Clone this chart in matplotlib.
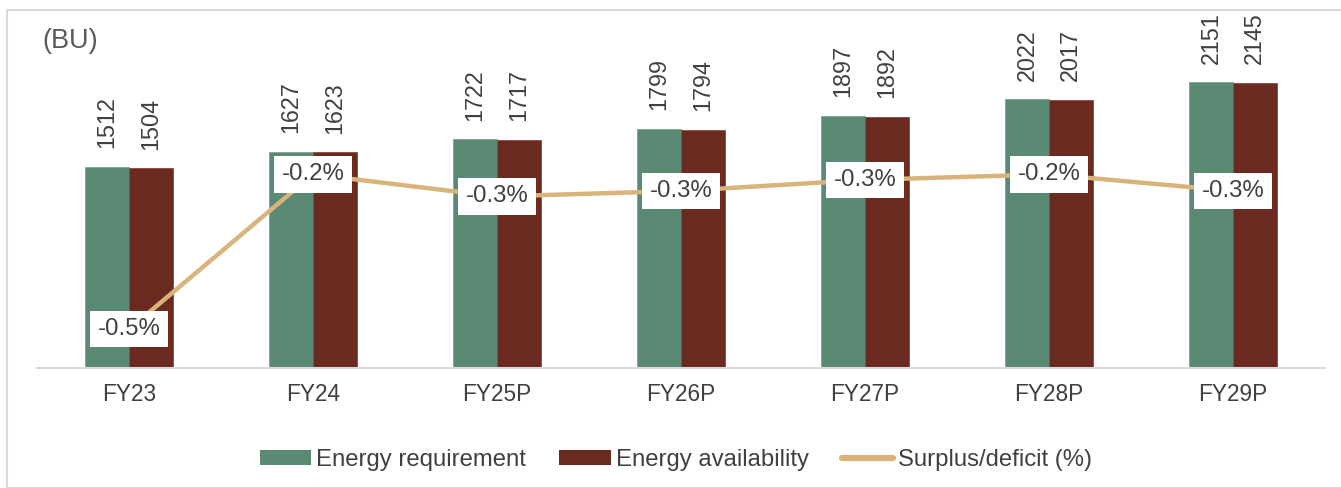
import matplotlib
matplotlib.use("Agg")
import matplotlib.pyplot as plt
from matplotlib.patches import Patch, Rectangle
from matplotlib.lines import Line2D
import numpy as np

categories = ["FY23", "FY24", "FY25P", "FY26P", "FY27P", "FY28P", "FY29P"]
requirement = [1512, 1627, 1722, 1799, 1897, 2022, 2151]
availability = [1504, 1623, 1717, 1794, 1892, 2017, 2145]
surplus_pct = [-0.53, -0.25, -0.29, -0.28, -0.26, -0.25, -0.28]

GREEN = "#5B8A74"
RED = "#6A2A20"
TAN = "#D8B47A"
TXT = "#404040"

plt.rcParams["font.family"] = ["Liberation Sans", "DejaVu Sans"]

fig = plt.figure(figsize=(13.41, 4.88), dpi=100)
W, H = 1341, 488
fig.patches.append(Rectangle((7 / W, 0), 1.2, 1 - 10 / H, transform=fig.transFigure,
                             fill=False, edgecolor="#D9D9D9", linewidth=1.5, zorder=0))

ax = fig.add_axes([37 / W, 1 - 368 / H, (1325 - 37) / W, (368 - 36) / H])
x = np.arange(len(categories))
bw = 0.237
b1 = ax.bar(x - bw / 2, requirement, bw, color=GREEN, edgecolor="#7FA393", linewidth=0.6)
b2 = ax.bar(x + bw / 2, availability, bw, color=RED, edgecolor="#8A4A40", linewidth=0.6)
ax.set_xlim(-0.5, len(categories) - 0.5)
ax.set_ylim(0, 2500)
for s in ["top", "left", "right"]:
    ax.spines[s].set_visible(False)
ax.spines["bottom"].set_color("#D9D9D9")
ax.spines["bottom"].set_linewidth(1.5)
ax.set_yticks([])
ax.set_xticks(x)
ax.set_xticklabels(categories, fontsize=16.3, color=TXT)
ax.tick_params(axis="x", length=0, pad=11)

for bars, vals in ((b1, requirement), (b2, availability)):
    for rect, v in zip(bars, vals):
        ax.annotate(str(v), (rect.get_x() + rect.get_width() / 2, v),
                    xytext=(0, 13.5), textcoords="offset points",
                    rotation=90, ha="center", va="bottom", fontsize=16.8, color=TXT)

ax2 = ax.twinx()
ax2.set_ylim(-0.6, 0)
for s in ax2.spines.values():
    s.set_visible(False)
ax2.set_yticks([])
ax2.plot(x, surplus_pct, color=TAN, linewidth=3.2, solid_capstyle="round", zorder=3)
for xi, v in zip(x, surplus_pct):
    ax2.text(xi, v, f"{v:.1f}%", ha="center", va="center", fontsize=17.3, color=TXT,
             zorder=4, bbox=dict(boxstyle="square,pad=0.3", facecolor="white", edgecolor="none"))

fig.text(42 / W, 1 - 41 / H, "(BU)", fontsize=19.5, color="#595959", ha="left", va="center")

handles = [Patch(facecolor=GREEN, edgecolor="none"),
           Patch(facecolor=RED, edgecolor="none"),
           Line2D([0], [0], color=TAN, linewidth=4.5, solid_capstyle="round")]
labels = ["Energy requirement", "Energy availability", "Surplus/deficit (%)"]
fig.legend(handles, labels, loc="center", bbox_to_anchor=(676 / W, 1 - 460 / H), ncol=3,
           frameon=False, fontsize=17.2, handlelength=2.15, handleheight=0.6,
           handletextpad=0.2, columnspacing=1.4, labelcolor=TXT)

fig.savefig("out.png", dpi=100)
